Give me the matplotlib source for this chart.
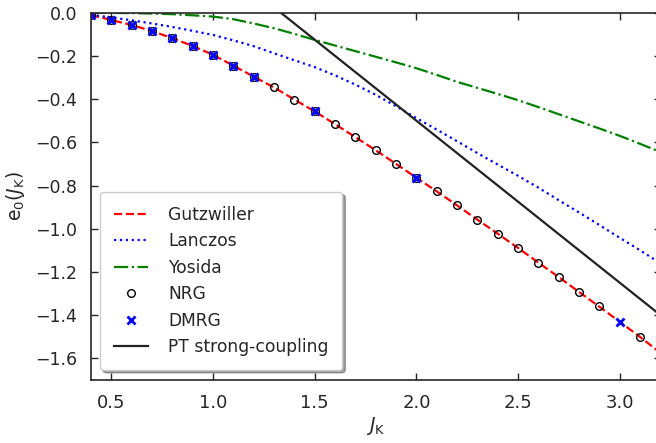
import numpy as np
import matplotlib
matplotlib.use("Agg")
import matplotlib.pyplot as plt

# ---- data ----
J_grid = [0.4, 0.5, 0.6, 0.7, 0.8, 0.9, 1.0, 1.1, 1.2, 1.3, 1.4, 1.5, 1.6, 1.7, 1.8,
          1.9, 2.0, 2.1, 2.2, 2.3, 2.4, 2.5, 2.6, 2.7, 2.8, 2.9, 3.0, 3.1, 3.2]
gutzwiller = [-0.011, -0.034, -0.057, -0.085, -0.118, -0.154, -0.195, -0.245, -0.296,
              -0.346, -0.402, -0.457, -0.516, -0.576, -0.637, -0.700, -0.764, -0.827,
              -0.892, -0.958, -1.023, -1.089, -1.157, -1.224, -1.293, -1.361, -1.431,
              -1.501, -1.575]
lanczos = [-0.010, -0.022, -0.035, -0.050, -0.066, -0.084, -0.103, -0.128, -0.155,
           -0.188, -0.220, -0.252, -0.290, -0.333, -0.380, -0.433, -0.488, -0.541,
           -0.595, -0.650, -0.703, -0.755, -0.810, -0.868, -0.925, -0.983, -1.042,
           -1.100, -1.160]
yosida = [0.0, -0.001, -0.002, -0.004, -0.007, -0.012, -0.018, -0.030, -0.050,
          -0.072, -0.098, -0.126, -0.152, -0.178, -0.204, -0.230, -0.257, -0.288,
          -0.320, -0.348, -0.376, -0.405, -0.437, -0.470, -0.503, -0.536, -0.570,
          -0.607, -0.645]

J_nrg = [0.4, 0.5, 0.6, 0.7, 0.8, 0.9, 1.0, 1.1, 1.2, 1.3, 1.4, 1.5, 1.6, 1.7, 1.8,
         1.9, 2.0, 2.1, 2.2, 2.3, 2.4, 2.5, 2.6, 2.7, 2.8, 2.9, 3.1]
e_nrg = [-0.011, -0.034, -0.057, -0.085, -0.118, -0.154, -0.195, -0.245, -0.296,
         -0.346, -0.403, -0.457, -0.516, -0.577, -0.637, -0.700, -0.764, -0.827,
         -0.892, -0.958, -1.023, -1.089, -1.157, -1.224, -1.293, -1.359, -1.501]

J_dmrg = [0.4, 0.5, 0.6, 0.7, 0.8, 0.9, 1.0, 1.1, 1.2, 1.5, 2.0, 3.0]
e_dmrg = [-0.011, -0.034, -0.057, -0.085, -0.118, -0.154, -0.195, -0.245, -0.296,
          -0.457, -0.764, -1.433]

J_pt = [1.2, 3.2]
e_pt = [0.1, -1.4]

xticks = [0.5, 1.0, 1.5, 2.0, 2.5, 3.0]
yticks = [0.0, -0.2, -0.4, -0.6, -0.8, -1.0, -1.2, -1.4, -1.6]

# ---- figure ----
plt.rcParams['font.family'] = ['DejaVu Sans']
plt.rcParams['font.size'] = 12.5
textc = '#262626'

fig = plt.figure(figsize=(6.56, 4.43), dpi=100)
W, H = 656, 443
left, right, top, bottom = 91, 660.5, 12.7, 380
ax = fig.add_axes([left / W, 1 - bottom / H, (right - left) / W, (bottom - top) / H])

ax.plot(J_grid, gutzwiller, ls='--', color='red', lw=1.6, label='Gutzwiller')
ax.plot(J_grid, lanczos, ls=':', color='blue', lw=1.6, label='Lanczos')
ax.plot(J_grid, yosida, ls='-.', color='green', lw=1.6, label='Yosida')
ax.plot(J_nrg, e_nrg, ls='none', marker='o', ms=5.5, mfc='none', mec='black',
        mew=1.0, label='NRG')
ax.plot(J_dmrg, e_dmrg, ls='none', marker='x', ms=6, mec='blue', mew=2.0,
        label='DMRG')
ax.plot(J_pt, e_pt, ls='-', color='#222222', lw=1.6, label='PT strong-coupling')

ax.set_xlim(0.4, 3.2)
ax.set_ylim(-1.7, 0.0)
ax.set_xticks(xticks)
ax.set_yticks(yticks)
ax.set_xticklabels([f'{v:.1f}' for v in xticks])
ax.set_yticklabels([('\u2212' if v < 0 else '') + f'{abs(v):.1f}' for v in yticks])
ax.tick_params(direction='in', top=True, right=True, length=5, width=1,
               colors=textc)
ax.tick_params(axis='x', labelsize=13, pad=10)
ax.tick_params(axis='y', labelsize=12.5, pad=10)
for s in ax.spines.values():
    s.set_color('#262626')
    s.set_linewidth(1.2)

ax.set_xlabel(r'$J_\mathrm{K}$', color=textc, fontsize=13.5, labelpad=2)
ax.set_ylabel(r'$\mathrm{e}_0(J_\mathrm{K})$', color=textc, fontsize=13.5, labelpad=6)

leg = ax.legend(loc='lower left', bbox_to_anchor=(0.001, 0.004), frameon=True,
                fancybox=True, shadow=True, fontsize=12.3, borderpad=0.8,
                handletextpad=1.2)
leg.get_frame().set_edgecolor('#cccccc')
for t in leg.get_texts():
    t.set_color(textc)

fig.savefig('out.png', dpi=100)
